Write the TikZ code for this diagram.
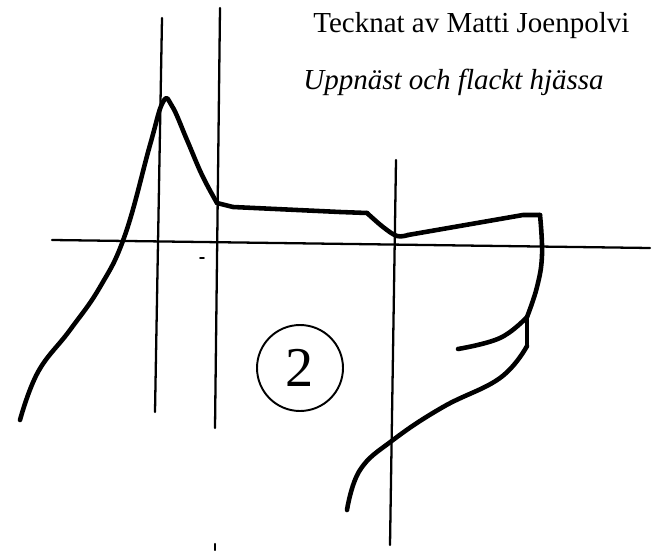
\documentclass[tikz,border=0pt]{standalone}
\usepackage{fontspec}
\setmainfont{Liberation Serif}
\begin{document}
\begin{tikzpicture}[x=0.02cm,y=-0.02cm,line cap=round,line join=round,
  guide/.style={line width=1.3pt},
  profile/.style={line width=2.6pt},
  caption/.style={anchor=base west,inner sep=0pt,font=\fontsize{16.5}{19}\selectfont}]
\useasboundingbox (0,0) rectangle (668,550);
% reference lines
\draw[guide] (52,240) -- (650,248);
\draw[guide] (162,18) -- (155,412);
\draw[guide] (220,8) -- (215,428);
\draw[guide] (215,544) -- (215,550);
\draw[guide] (396,160) -- (390,545);
\draw[line width=1pt] (200,258) -- (204,258);
% skull and face
\draw[profile] plot[smooth,tension=0.7] coordinates {(20,420) (38,372) (70,330)
  (100,287) (125,235) (150,145) (163,102) (172,106) (187,140) (202,175) (217,203)};
\draw[profile] (217,203) -- (233,207) -- (340,212) -- (367,213);
\draw[profile] plot[smooth,tension=0.6] coordinates {(367,213) (383,227) (397,236) (408,235)};
\draw[profile] (408,235) -- (523,215) -- (540,215);
\draw[profile] plot[smooth,tension=0.7] coordinates {(540,215) (542,255) (537,287) (527,317)};
\draw[profile] plot[smooth,tension=0.7] coordinates {(527,317) (500,338) (458,349)};
\draw[profile] (527,317) -- (527,346);
\draw[profile] plot[smooth,tension=0.7] coordinates {(527,346) (500,378) (443,407)
  (393,440) (360,470) (347,510)};
% labels
\node[draw,circle,line width=1.1pt,minimum size=1.72cm,inner sep=0pt,
  font=\fontsize{32}{34}\selectfont] (nr) at (300,368) {2};
\node[caption] (credit) at (313,33) {Tecknat av Matti Joenpolvi};
\node[caption,font=\fontsize{16.5}{19}\selectfont\itshape] (type) at (303,90) {Uppnäst och flackt hjässa};
\end{tikzpicture}
\end{document}
